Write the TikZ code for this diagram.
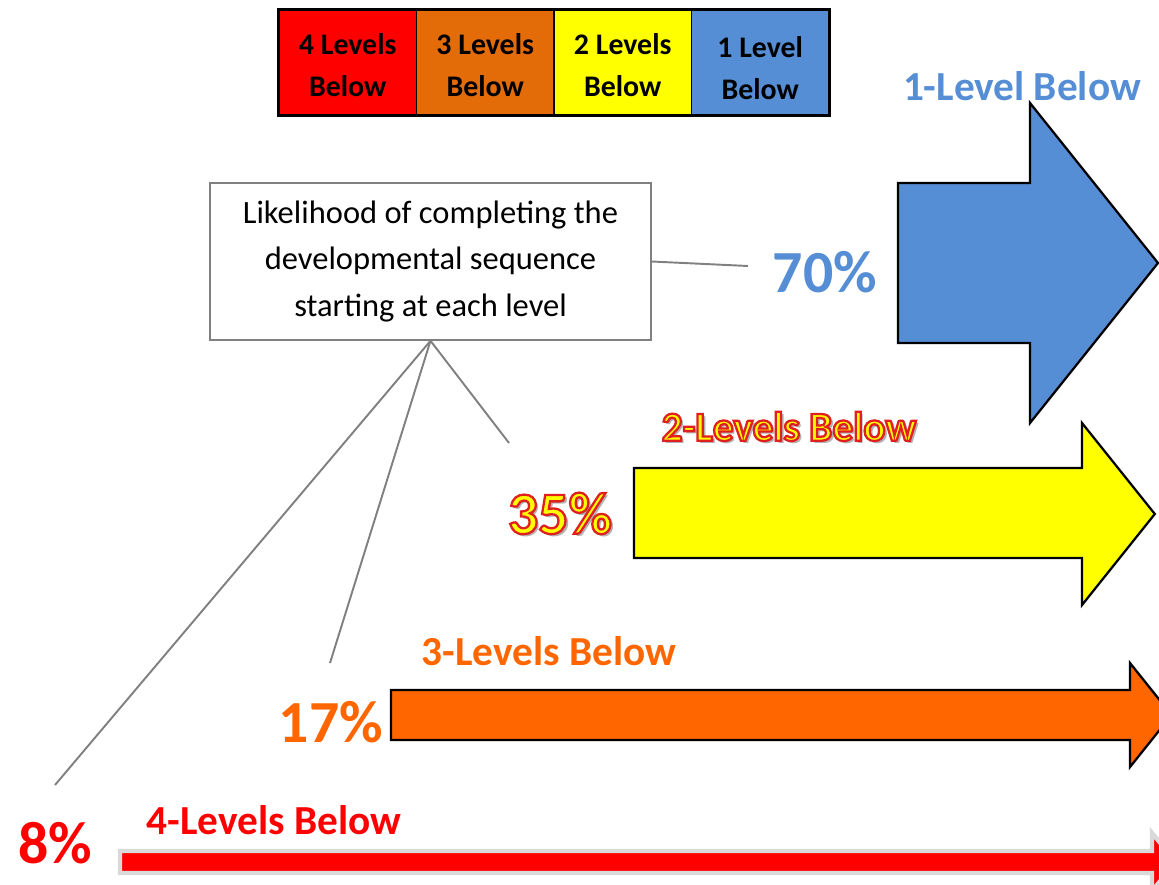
\documentclass[tikz,border=0pt]{standalone}
\usepackage{fontspec}
\setmainfont{Carlito}
\usetikzlibrary{positioning}
\definecolor{LvRed}{RGB}{255,0,0}
\definecolor{LvOrange}{RGB}{255,102,0}
\definecolor{LegOrange}{RGB}{227,108,9}
\definecolor{LvYellow}{RGB}{255,255,0}
\definecolor{LvBlue}{RGB}{85,142,213}
\definecolor{LeaderGray}{RGB}{128,128,128}

% yellow text stroked with a red rim, over a soft drop shadow
\newcommand{\rimtext}[1]{\leavevmode
  \rlap{\kern1.6pt\raisebox{-1.8pt}{\textcolor{black!30}{#1}}}%
  \textcolor{LvYellow}{\special{pdf:literal direct 2 Tr 1.3 w 0.88 0.12 0.12 RG}#1%
  \special{pdf:literal direct 0 Tr}}}

\begin{document}
\begin{tikzpicture}[x=0.02cm,y=-0.02cm,
    legcell/.style={draw=black,line width=0.8pt,minimum width=2.75cm,minimum height=2.1cm,
                    inner sep=0,align=center,font=\bfseries\fontsize{17}{23.5}\selectfont},
    lvlabel/.style={inner sep=0,font=\bfseries\fontsize{23.5}{28}\selectfont},
    pct/.style={inner sep=0,font=\bfseries\fontsize{34}{40}\selectfont},
    bigarrow/.style={draw=black,line width=1.3pt,line join=miter},
    leader/.style={draw=LeaderGray,line width=1.1pt},
    callout/.style={draw=LeaderGray,line width=0.9pt,fill=white,minimum width=8.82cm,
                    minimum height=3.14cm,align=center,
                    font=\fontsize{18.5}{26.6}\selectfont}]
  \useasboundingbox (0,0) rectangle (1159,885);
  \clip (0,0) rectangle (1159,885);

  % Legend
  \foreach \i/\col/\lv/\dy in {0/LvRed/4 Levels/0, 1/LegOrange/3 Levels/0,
                               2/LvYellow/2 Levels/0, 3/LvBlue/1 Level/-3}
    \node[legcell,fill=\col] (leg\i) at ({279+137.5*\i+68.75},62.5) {};
  \foreach \i/\lv/\dy in {0/4 Levels/0, 1/3 Levels/0, 2/2 Levels/0, 3/1 Level/3}
    \node[inner sep=0,align=center,font=\bfseries\fontsize{17}{23.5}\selectfont]
      (legtxt\i) at ([yshift=-\dy*0.02cm-1.5pt]leg\i.center) {\lv\\Below};
  \draw[line width=1.6pt] (leg0.north west) rectangle (leg3.south east);

  % Arrows (name/colour/tail x/body top/body bottom/head x/head top/head bottom)
  \foreach \n/\col/\L/\bt/\bb/\H/\ht/\hb in {1/LvBlue/898/183/343/1030/103/423,
                                             2/LvYellow/634/468/558/1082/423/605,
                                             3/LvOrange/391/690/740/1130/663/767}
    \draw[bigarrow,fill=\col] (\L,\bt) -- (\H,\bt) -- (\H,\ht)
      -- ({\H+0.8*(\hb-\ht)/2},{(\ht+\hb)/2}) -- (\H,\hb) -- (\H,\bb) -- (\L,\bb) -- cycle;
  \draw[draw=black!15,line width=2.5pt,fill=LvRed] (120,851) -- (1152,851) -- (1152,833)
    -- (1176,862) -- (1152,891) -- (1152,873) -- (120,873) -- cycle;

  % Level labels and percentages
  \node[lvlabel,text=LvBlue] (lab1) at (1022,86) {1-Level Below};
  \node[pct,text=LvBlue] (pct1) at (825,272) {70\%};
  \node[lvlabel] (lab2) at (789,428) {\rimtext{2-Levels Below}};
  \node[pct] (pct2) at (560,515) {\rimtext{35\%}};
  \node[lvlabel,text=LvOrange] (lab3) at (549,651) {3-Levels Below};
  \node[pct,text=LvOrange] (pct3) at (331,722) {17\%};
  \node[lvlabel,text=LvRed] (lab4) at (274,820) {4-Levels Below};
  \node[pct,text=LvRed] (pct4) at (55,843) {8\%};

  % Callout
  \node[callout] (note) at (430.5,261.5) {Likelihood of completing the\\developmental sequence\\starting at each level};
  \coordinate (end1) at (748,266);
  \coordinate (end2) at (509,443);
  \coordinate (end3) at (330,663);
  \coordinate (end4) at (55,785);
  \draw[leader] (note.east) -- (end1);
  \foreach \k in {2,3,4}
    \draw[leader] (note.south) -- (end\k);
\end{tikzpicture}
\end{document}
